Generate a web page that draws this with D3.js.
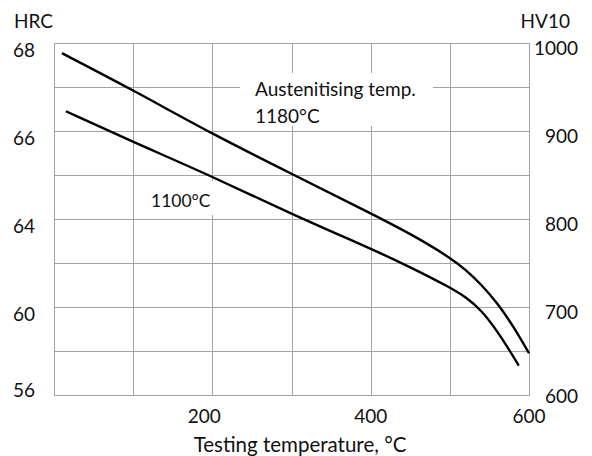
<!DOCTYPE html>
<html><head><meta charset="utf-8">
<script src="https://cdn.jsdelivr.net/npm/d3@7"></script>
<style>
html,body{margin:0;padding:0;background:#fff;}
text{font-family:Lato,"Open Sans",sans-serif;fill:#111;}
</style></head>
<body>
<svg id="c" width="592" height="456"></svg>
<script>
// ---- data ----
const tempGrid = [0, 100, 200, 300, 400, 500, 600];
const tempTicks = [200, 400, 600];
const hvGrid = [600, 650, 700, 750, 800, 850, 900, 950, 1000];
const hvTicks = [600, 700, 800, 900, 1000];
const hrcLabels = ["56", "60", "64", "66", "68"]; // aligned with hvTicks
const temp1180 = [10, 100, 200, 300, 400, 450, 500, 520, 540, 560, 580, 600];
const hv1180   = [989, 947, 897, 852, 807, 784, 757, 743, 726, 705, 679, 648];
const temp1100 = [15, 100, 200, 300, 400, 450, 500, 520, 540, 560, 575, 587];
const hv1100   = [923, 888, 849, 806, 767, 746, 723, 712, 697, 673, 652, 634];

const svg = d3.select("#c");
const L = 54, R = 529, T = 43.5, B = 395.5;
const x = d3.scaleLinear().domain([0, 600]).range([L, R]);
const y = d3.scaleLinear().domain([600, 1000]).range([B, T]);
const gridCol = "#a3a3a3";
const fs = 19;

// grid
const g = svg.append("g");
g.selectAll("line.v").data(tempGrid).join("line")
  .attr("x1", d => Math.round(x(d)) + 0.5).attr("x2", d => Math.round(x(d)) + 0.5)
  .attr("y1", T).attr("y2", B).attr("stroke", gridCol).attr("stroke-width", 1);
g.selectAll("line.h").data(hvGrid).join("line")
  .attr("y1", d => Math.floor(y(d)) + 0.5).attr("y2", d => Math.floor(y(d)) + 0.5)
  .attr("x1", L).attr("x2", R + 1).attr("stroke", gridCol).attr("stroke-width", 1);

// annotation backgrounds
svg.append("rect").attr("x", 240).attr("y", 73).attr("width", 193).attr("height", 53).attr("fill", "#fff");
svg.append("rect").attr("x", 146).attr("y", 181).attr("width", 68).attr("height", 34).attr("fill", "#fff");

svg.append("text").attr("x", 255).attr("y", 96).attr("font-size", fs).text("Austenitising temp.");
svg.append("text").attr("x", 255).attr("y", 123).attr("font-size", fs).text("1180°C");
svg.append("text").attr("x", 151).attr("y", 207).attr("font-size", 17.5).text("1100°C");

// curves
const line = d3.line().x(d => x(d[0])).y(d => y(d[1])).curve(d3.curveBasis);
[[temp1180, hv1180], [temp1100, hv1100]].forEach(([t, h]) => {
  svg.append("path").datum(t.map((v, i) => [v, h[i]]))
    .attr("d", line).attr("fill", "none").attr("stroke", "#000").attr("stroke-width", 2.4);
});

// left axis labels (HRC)
svg.selectAll("text.l").data(hvTicks).join("text")
  .attr("x", 13).attr("y", (d, i) => i === 0 ? y(d) + 1 : y(d) + 13)
  .attr("font-size", fs).text((d, i) => hrcLabels[i]);
// right axis labels (HV10)
svg.selectAll("text.r").data(hvTicks).join("text")
  .attr("x", 578).attr("text-anchor", "end")
  .attr("y", (d, i) => i === 0 ? y(d) + 7.5 : y(d) + 11)
  .attr("font-size", fs).text(d => d);
// bottom axis labels
svg.selectAll("text.b").data(tempTicks).join("text")
  .attr("x", d => x(d) + (d === 200 ? -8 : 0)).attr("y", 423).attr("text-anchor", "middle")
  .attr("font-size", fs).text(d => d);

svg.append("text").attr("x", 14).attr("y", 28).attr("font-size", fs).text("HRC");
svg.append("text").attr("x", 570).attr("y", 28).attr("text-anchor", "end").attr("font-size", fs).text("HV10");
svg.append("text").attr("x", 300).attr("y", 451.5).attr("text-anchor", "middle").attr("font-size", 20.5).text("Testing temperature, °C");
</script>
</body></html>
